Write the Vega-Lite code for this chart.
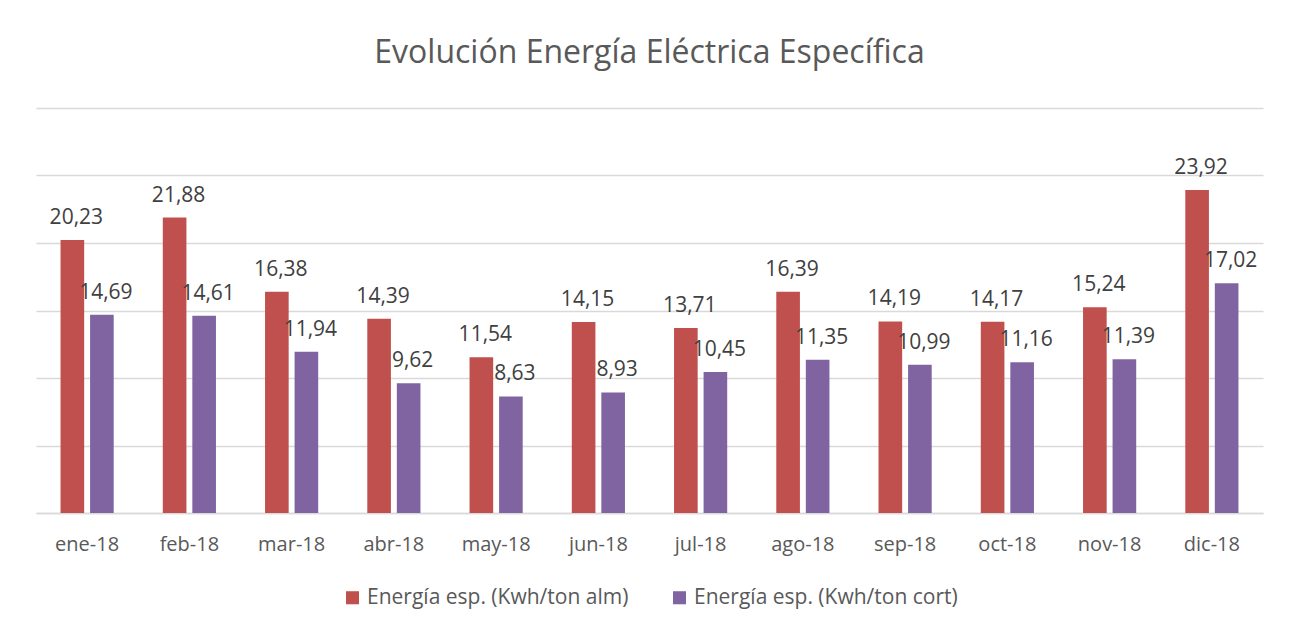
{
  "$schema": "https://vega.github.io/schema/vega-lite/v6.json",
  "width": 1227,
  "height": 405,
  "autosize": {"type": "none"},
  "padding": {"left": 36, "top": 108, "right": 27, "bottom": 115},
  "background": "white",
  "config": {
    "locale": {"number": {"decimal": ",", "thousands": ".", "grouping": [3], "currency": ["", " €"]}},
    "font": "Open Sans",
    "view": {"stroke": null},
    "legend": {"layout": {"bottom": {"anchor": "middle"}}}
  },
  "title": {
    "text": "Evolución Energía Eléctrica Específica",
    "fontSize": 32,
    "fontWeight": "normal",
    "color": "#595959",
    "font": "Open Sans",
    "anchor": "middle",
    "offset": 38
  },
  "data": {
    "values": [
      {"mes": "ene-18", "serie": "Energía esp. (Kwh/ton alm)", "valor": 20.23},
      {"mes": "ene-18", "serie": "Energía esp. (Kwh/ton cort)", "valor": 14.69},
      {"mes": "feb-18", "serie": "Energía esp. (Kwh/ton alm)", "valor": 21.88},
      {"mes": "feb-18", "serie": "Energía esp. (Kwh/ton cort)", "valor": 14.61},
      {"mes": "mar-18", "serie": "Energía esp. (Kwh/ton alm)", "valor": 16.38},
      {"mes": "mar-18", "serie": "Energía esp. (Kwh/ton cort)", "valor": 11.94},
      {"mes": "abr-18", "serie": "Energía esp. (Kwh/ton alm)", "valor": 14.39},
      {"mes": "abr-18", "serie": "Energía esp. (Kwh/ton cort)", "valor": 9.62},
      {"mes": "may-18", "serie": "Energía esp. (Kwh/ton alm)", "valor": 11.54},
      {"mes": "may-18", "serie": "Energía esp. (Kwh/ton cort)", "valor": 8.63},
      {"mes": "jun-18", "serie": "Energía esp. (Kwh/ton alm)", "valor": 14.15},
      {"mes": "jun-18", "serie": "Energía esp. (Kwh/ton cort)", "valor": 8.93},
      {"mes": "jul-18", "serie": "Energía esp. (Kwh/ton alm)", "valor": 13.71},
      {"mes": "jul-18", "serie": "Energía esp. (Kwh/ton cort)", "valor": 10.45},
      {"mes": "ago-18", "serie": "Energía esp. (Kwh/ton alm)", "valor": 16.39},
      {"mes": "ago-18", "serie": "Energía esp. (Kwh/ton cort)", "valor": 11.35},
      {"mes": "sep-18", "serie": "Energía esp. (Kwh/ton alm)", "valor": 14.19},
      {"mes": "sep-18", "serie": "Energía esp. (Kwh/ton cort)", "valor": 10.99},
      {"mes": "oct-18", "serie": "Energía esp. (Kwh/ton alm)", "valor": 14.17},
      {"mes": "oct-18", "serie": "Energía esp. (Kwh/ton cort)", "valor": 11.16},
      {"mes": "nov-18", "serie": "Energía esp. (Kwh/ton alm)", "valor": 15.24},
      {"mes": "nov-18", "serie": "Energía esp. (Kwh/ton cort)", "valor": 11.39},
      {"mes": "dic-18", "serie": "Energía esp. (Kwh/ton alm)", "valor": 23.92},
      {"mes": "dic-18", "serie": "Energía esp. (Kwh/ton cort)", "valor": 17.02}
    ]
  },
  "encoding": {
    "x": {
      "field": "mes",
      "type": "nominal",
      "sort": null,
      "scale": {"paddingInner": 0.48, "paddingOuter": 0.24},
      "axis": {
        "title": null,
        "labelAngle": 0,
        "labelFontSize": 20,
        "labelColor": "#595959",
        "labelFont": "Open Sans",
        "labelPadding": 21,
        "ticks": false,
        "domainColor": "#D9D9D9",
        "domainWidth": 1.5,
        "grid": false
      }
    },
    "xOffset": {
      "field": "serie",
      "type": "nominal",
      "scale": {"paddingInner": 0.2, "paddingOuter": 0}
    },
    "y": {
      "field": "valor",
      "type": "quantitative",
      "scale": {"domain": [0, 30], "nice": false},
      "axis": {
        "title": null,
        "labels": false,
        "ticks": false,
        "domain": false,
        "values": [0, 5, 10, 15, 20, 25, 30],
        "gridColor": "#D9D9D9",
        "gridWidth": 1.5
      }
    }
  },
  "layer": [
    {
      "mark": {"type": "bar"},
      "encoding": {
        "color": {
          "field": "serie",
          "type": "nominal",
          "scale": {
            "domain": ["Energía esp. (Kwh/ton alm)", "Energía esp. (Kwh/ton cort)"],
            "range": ["#C0504D", "#8064A2"]
          },
          "legend": {
            "title": null,
            "orient": "bottom",
            "direction": "horizontal",
            "symbolType": "square",
            "symbolSize": 170,
            "symbolStrokeWidth": 0,
            "labelFontSize": 21,
            "labelColor": "#595959",
            "labelFont": "Open Sans",
            "labelLimit": 400,
            "columnPadding": 40,
            "labelOffset": 4,
            "offset": 33
          }
        }
      }
    },
    {
      "mark": {"type": "text", "baseline": "bottom", "dy": -12, "dx": 4, "fontSize": 21, "color": "#404040", "font": "Open Sans"},
      "encoding": {
        "text": {"field": "valor", "type": "quantitative", "format": ".2f"}
      }
    }
  ]
}
